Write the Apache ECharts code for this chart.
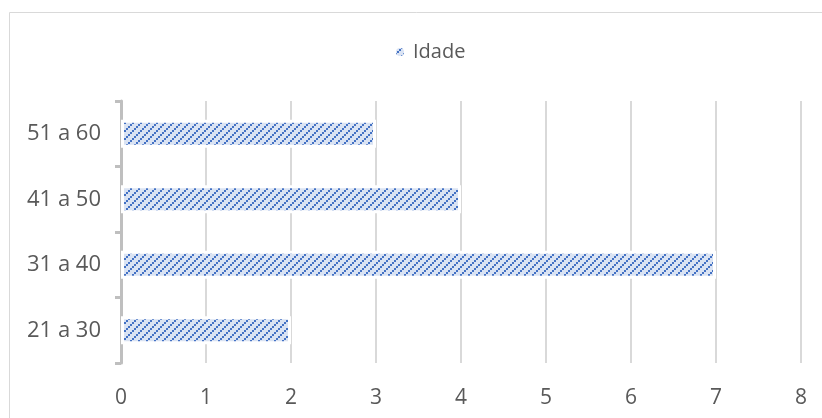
<!DOCTYPE html>
<html><head><meta charset="utf-8">
<script src="https://cdn.jsdelivr.net/npm/echarts@6/dist/echarts.min.js"></script>
<style>html,body{margin:0;padding:0;background:#fff}#c{width:822px;height:418px}</style>
</head><body><div id="c"></div>
<script>
const categories = ['21 a 30', '31 a 40', '41 a 50', '51 a 60'];
const values = [2, 7, 4, 3];
const seriesName = 'Idade';
const xTicks = [0, 1, 2, 3, 4, 5, 6, 7, 8];

function makePattern() {
  const W = 8, H = 8, s = 2;
  const cv = document.createElement('canvas');
  cv.width = W; cv.height = H;
  const g = cv.getContext('2d');
  g.fillStyle = '#dae3f3';
  g.fillRect(0, 0, W, H);
  g.fillStyle = '#4472c4';
  g.fillRect(6, 0, s, s);
  g.fillRect(4, 2, s, s);
  g.fillRect(2, 4, s, s);
  g.fillRect(0, 6, s, s);
  return cv;
}
const pat = { image: makePattern(), repeat: 'repeat' };
const font = '"Open Sans", sans-serif';
const chart = echarts.init(document.getElementById('c'), null, { renderer: 'canvas' });
chart.setOption({
  animation: false,
  backgroundColor: '#fff',
  graphic: [{
    type: 'rect', shape: { x: 9.5, y: 12.5, width: 900, height: 500 },
    style: { fill: 'none', stroke: '#d9d9d9', lineWidth: 1 }, silent: true, z: -1
  }],
  legend: {
    top: 37, left: 389,
    itemWidth: 10, itemHeight: 10, itemGap: 6,
    icon: 'circle',
    textStyle: { fontFamily: font, fontSize: 20, color: '#595959', padding: [0, 0, 0, 3] },
    data: [seriesName]
  },
  grid: { left: 121, right: 21, top: 101, bottom: 55 },
  xAxis: {
    type: 'value', min: 0, max: 8, interval: 1,
    axisLine: { show: false }, axisTick: { show: false },
    splitLine: { lineStyle: { color: '#d9d9d9', width: 2 } },
    axisLabel: {
      margin: 25, fontFamily: font, fontSize: 21, color: '#595959',
      formatter: v => xTicks.includes(v) ? String(v) : ''
    }
  },
  yAxis: {
    type: 'category', data: categories,
    axisLine: { lineStyle: { color: '#bfbfbf', width: 3 } },
    axisTick: { show: true, length: 6, lineStyle: { color: '#bfbfbf', width: 3 } },
    axisLabel: { margin: 20, fontFamily: font, fontSize: 22, color: '#595959' }
  },
  series: [{
    name: seriesName, type: 'bar', data: values,
    barWidth: 28,
    itemStyle: { color: pat, borderColor: '#ffffff', borderWidth: 3 }
  }]
});
</script></body></html>
